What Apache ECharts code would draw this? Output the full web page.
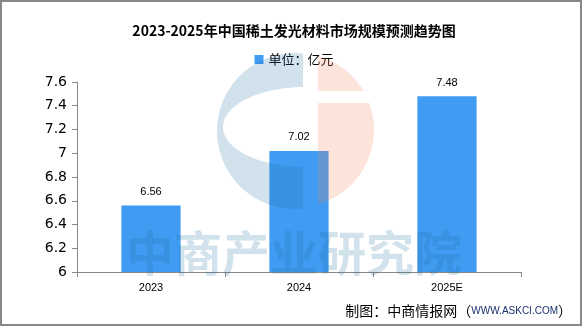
<!DOCTYPE html>
<html>
<head>
<meta charset="utf-8">
<script src="https://cdn.jsdelivr.net/npm/echarts@6/dist/echarts.min.js"></script>
<style>
html,body{margin:0;padding:0;background:#fff;}
#chart{width:588px;height:327px;}
</style>
</head>
<body>
<div id="chart"></div>
<script>
var titleText = '2023-2025年中国稀土发光材料市场规模预测趋势图';
var seriesName = '单位：亿元';
var categories = ['2023', '2024', '2025E'];
var values = [6.56, 7.02, 7.48];
var yMin = 6, yMax = 7.6, yStep = 0.2;
var sourceLabel = '制图：中商情报网（';
var sourceSite = 'WWW.ASKCI.COM';
var watermarkText = '中商产业研究院';

// decorative watermark logo outline helper
function arcPts(cx, cy, rx, ry, a0, a1, n) {
  var pts = [];
  for (var i = 0; i <= n; i++) {
    var t = a0 + (a1 - a0) * i / n;
    pts.push([cx + rx * Math.cos(t), cy + ry * Math.sin(t)]);
  }
  return pts;
}
var blueC = arcPts(295, 131, 78, 78, -1.468, -4.815, 80)
  .concat(arcPts(305, 127, 82, 40, 1.595, 4.688, 60));
var orangeTop = arcPts(297, 130, 77, 77, -1.294, -0.531, 30).concat([[318, 91]]);
var orangeBottom = [[318, 103]].concat(arcPts(297, 130, 77, 77, -0.358, 1.294, 50));

var chart = echarts.init(document.getElementById('chart'));
var wmBlue = 'rgba(30,110,160,0.2)';
var wmOrange = 'rgba(240,130,90,0.22)';
chart.setOption({
  animation: false,
  title: {
    text: titleText, left: 'center', top: 19,
    textStyle: {fontFamily: 'Noto Sans CJK SC', fontWeight: 'bold', fontSize: 14, color: '#000'}
  },
  legend: {
    data: [seriesName], left: 'center', top: 48,
    icon: 'rect', itemWidth: 9, itemHeight: 9, itemGap: 5,
    textStyle: {fontFamily: 'Noto Sans CJK SC', fontSize: 13, color: '#000'}
  },
  grid: {left: 77, right: 67, top: 82, bottom: 55, containLabel: false},
  xAxis: {
    type: 'category', data: categories,
    axisLine: {lineStyle: {color: '#888', width: 1}},
    axisTick: {show: true, length: 5, lineStyle: {color: '#888'}},
    axisLabel: {margin: 10, fontFamily: 'Liberation Sans', fontSize: 11, color: '#000'}
  },
  yAxis: {
    type: 'value', min: yMin, max: yMax, interval: yStep,
    axisLine: {show: true, lineStyle: {color: '#888', width: 1}},
    axisTick: {show: true, length: 5, lineStyle: {color: '#888'}},
    splitLine: {show: false},
    axisLabel: {margin: 10, fontFamily: 'DejaVu Sans', fontSize: 14, color: '#000'}
  },
  series: [{
    name: seriesName, type: 'bar', data: values, barWidth: '40%',
    itemStyle: {color: '#3f9cf2'},
    label: {show: true, position: 'top', distance: 8, fontFamily: 'Liberation Sans', fontSize: 11, color: '#000'}
  }],
  graphic: {elements: [
    {type: 'polygon', z: 100, silent: true, shape: {points: blueC}, style: {fill: wmBlue}},
    {type: 'polygon', z: 100, silent: true, shape: {points: orangeTop}, style: {fill: wmOrange}},
    {type: 'polygon', z: 100, silent: true, shape: {points: orangeBottom}, style: {fill: wmOrange}},
    {type: 'text', z: 100, silent: true, x: 294, y: 253,
     style: {text: watermarkText, fontFamily: 'Noto Sans CJK SC', fontWeight: 'bold', fontSize: 48,
             fill: wmBlue, align: 'center', verticalAlign: 'middle'}},
    {type: 'text', z: 101, x: 572, y: 311,
     style: {text: '{a|' + sourceLabel + '}{b|' + sourceSite + '}{a|）}', align: 'right', verticalAlign: 'middle',
             rich: {a: {fontFamily: 'Noto Sans CJK SC', fontSize: 14, fill: '#000'},
                    b: {fontFamily: 'Liberation Sans Narrow, Liberation Sans', fontSize: 10, fill: '#1a2f6e'}}}},
    {type: 'rect', z: 102, silent: true,
     shape: {x: 1, y: 1, width: 580, height: 324},
     style: {fill: 'none', stroke: '#888', lineWidth: 2}}
  ]}
});
</script>
</body>
</html>
